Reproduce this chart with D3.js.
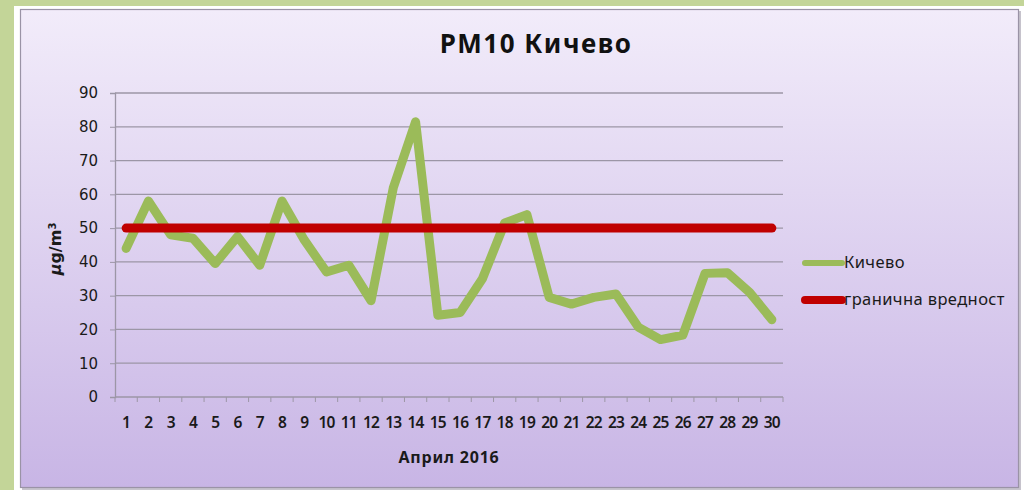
<!DOCTYPE html>
<html>
<head>
<meta charset="utf-8">
<script src="https://cdn.jsdelivr.net/npm/d3@7"></script>
<style>
  html, body { margin: 0; padding: 0; background: #c3d598; }
  svg { display: block; }
</style>
</head>
<body>
<svg id="chart" width="1024" height="490"></svg>
<script>
// Daily PM10 concentration in Kičevo, April 2016 (µg/m³)
const days = d3.range(1, 31);
const kicevo = [44, 58, 48, 47, 39.5, 47.5, 39, 58, 46.5, 37, 39, 28.5, 62, 81.5, 24.2,
                25, 35, 51.5, 54, 29.5, 27.5, 29.5, 30.5, 20.7, 17, 18.3, 36.6, 36.8, 31, 22.9];
const limitValue = 50;
const yTicks = [0, 10, 20, 30, 40, 50, 60, 70, 80, 90];
const seriesNames = ["Кичево", "гранична вредност"];
const seriesColors = ["#9bbb59", "#c00000"];

const svg = d3.select("#chart");
const font = "'Comic Sans MS', 'Noto Sans', sans-serif";

// Outer frame and chart box
svg.append("rect").attr("x", 14).attr("y", 6).attr("width", 1010).attr("height", 484).attr("fill", "#ffffff");
const defs = svg.append("defs");
const grad = defs.append("linearGradient").attr("id", "bg").attr("x1", 0).attr("y1", 0).attr("x2", 0).attr("y2", 1);
grad.append("stop").attr("offset", "0%").attr("stop-color", "#f2ecfa");
grad.append("stop").attr("offset", "100%").attr("stop-color", "#c8b5e5");
svg.append("rect").attr("x", 22).attr("y", 11).attr("width", 999).attr("height", 479).attr("fill", "#8e879a").attr("opacity", 0.5);
svg.append("rect").attr("x", 20.5).attr("y", 9.5).attr("width", 998).attr("height", 478)
  .attr("fill", "url(#bg)").attr("stroke", "#9a93a6").attr("stroke-width", 1.2);

const plot = { left: 115, right: 783, top: 93, bottom: 397 };

const x = d3.scaleBand().domain(days).range([plot.left, plot.right]);
const y = d3.scaleLinear().domain([0, 90]).range([plot.bottom, plot.top]);

// Horizontal gridlines
svg.append("g").selectAll("line").data(yTicks.filter(d => d > 0)).join("line")
  .attr("x1", plot.left).attr("x2", plot.right)
  .attr("y1", d => y(d)).attr("y2", d => y(d))
  .attr("stroke", "#9c96a6").attr("stroke-width", 1.3);

// Y axis
const yAxis = svg.append("g").attr("transform", `translate(${plot.left},0)`)
  .call(d3.axisLeft(y).tickValues(yTicks).tickSize(5).tickPadding(12));
yAxis.select(".domain").attr("stroke", "#9c96a6").attr("stroke-width", 1.3);
yAxis.selectAll(".tick line").attr("stroke", "#9c96a6");
yAxis.selectAll(".tick text").attr("font-family", "'DejaVu Sans', sans-serif")
  .attr("font-size", 15).attr("fill", "#1a1a1a");

// X axis with ticks on category boundaries
const xAxisG = svg.append("g").attr("transform", `translate(0,${plot.bottom})`);
xAxisG.append("line").attr("x1", plot.left).attr("x2", plot.right)
  .attr("stroke", "#9c96a6").attr("stroke-width", 1.3);
const bounds = days.map(d => x(d)).concat([x(30) + x.bandwidth()]);
xAxisG.selectAll("line.tk").data(bounds).join("line").attr("class", "tk")
  .attr("x1", d => d).attr("x2", d => d).attr("y1", 0).attr("y2", 5)
  .attr("stroke", "#9c96a6");
xAxisG.selectAll("text").data(days).join("text")
  .attr("x", d => x(d) + x.bandwidth() / 2).attr("y", 31)
  .attr("text-anchor", "middle").attr("font-family", font).attr("font-weight", 600)
  .attr("font-size", 15.5).attr("letter-spacing", -0.8).attr("fill", "#1a1a1a")
  .text(d => d);

// Axis titles and chart title
svg.append("text").attr("x", (plot.left + plot.right) / 2).attr("y", 463)
  .attr("text-anchor", "middle").attr("font-family", font).attr("font-weight", "bold")
  .attr("font-size", 16).attr("letter-spacing", 0.8).attr("fill", "#1a1a1a").text("Април 2016");
svg.append("text").attr("transform", "translate(61,249) rotate(-90)")
  .attr("text-anchor", "middle").attr("font-family", "'DejaVu Sans', sans-serif").attr("font-weight", "bold")
  .attr("font-size", 16).attr("fill", "#1a1a1a")
  .html("<tspan font-style='italic'>µ</tspan>g/m<tspan baseline-shift='super' font-size='10'>3</tspan>");
svg.append("text").attr("x", 536).attr("y", 53)
  .attr("text-anchor", "middle").attr("font-family", font).attr("font-weight", "bold")
  .attr("font-size", 26).attr("letter-spacing", 1.5).attr("fill", "#111").text("PM10 Кичево");

// Series lines
const cx = d => x(d) + x.bandwidth() / 2;
const line = d3.line().x(d => cx(d.day)).y(d => y(d.v));
const limitData = days.map(d => ({ day: d, v: limitValue }));
const kicevoData = days.map((d, i) => ({ day: d, v: kicevo[i] }));

svg.append("path").datum(kicevoData).attr("d", line)
  .attr("fill", "none").attr("stroke", seriesColors[0]).attr("stroke-width", 9)
  .attr("stroke-linejoin", "round").attr("stroke-linecap", "round");
svg.append("path").datum(limitData).attr("d", line)
  .attr("fill", "none").attr("stroke", seriesColors[1]).attr("stroke-width", 9)
  .attr("stroke-linecap", "round");

// Legend
const legend = svg.append("g");
seriesNames.forEach((name, i) => {
  const ly = 263 + i * 37;
  legend.append("line").attr("x1", 805).attr("x2", 842).attr("y1", ly).attr("y2", ly)
    .attr("stroke", seriesColors[i]).attr("stroke-width", i === 0 ? 6 : 8).attr("stroke-linecap", "round");
  legend.append("text").attr("x", 844).attr("y", ly + 5)
    .attr("font-family", font).attr("font-size", 16.5).attr("letter-spacing", 0.4)
    .attr("fill", "#1a1a1a").text(name);
});
</script>
</body>
</html>
